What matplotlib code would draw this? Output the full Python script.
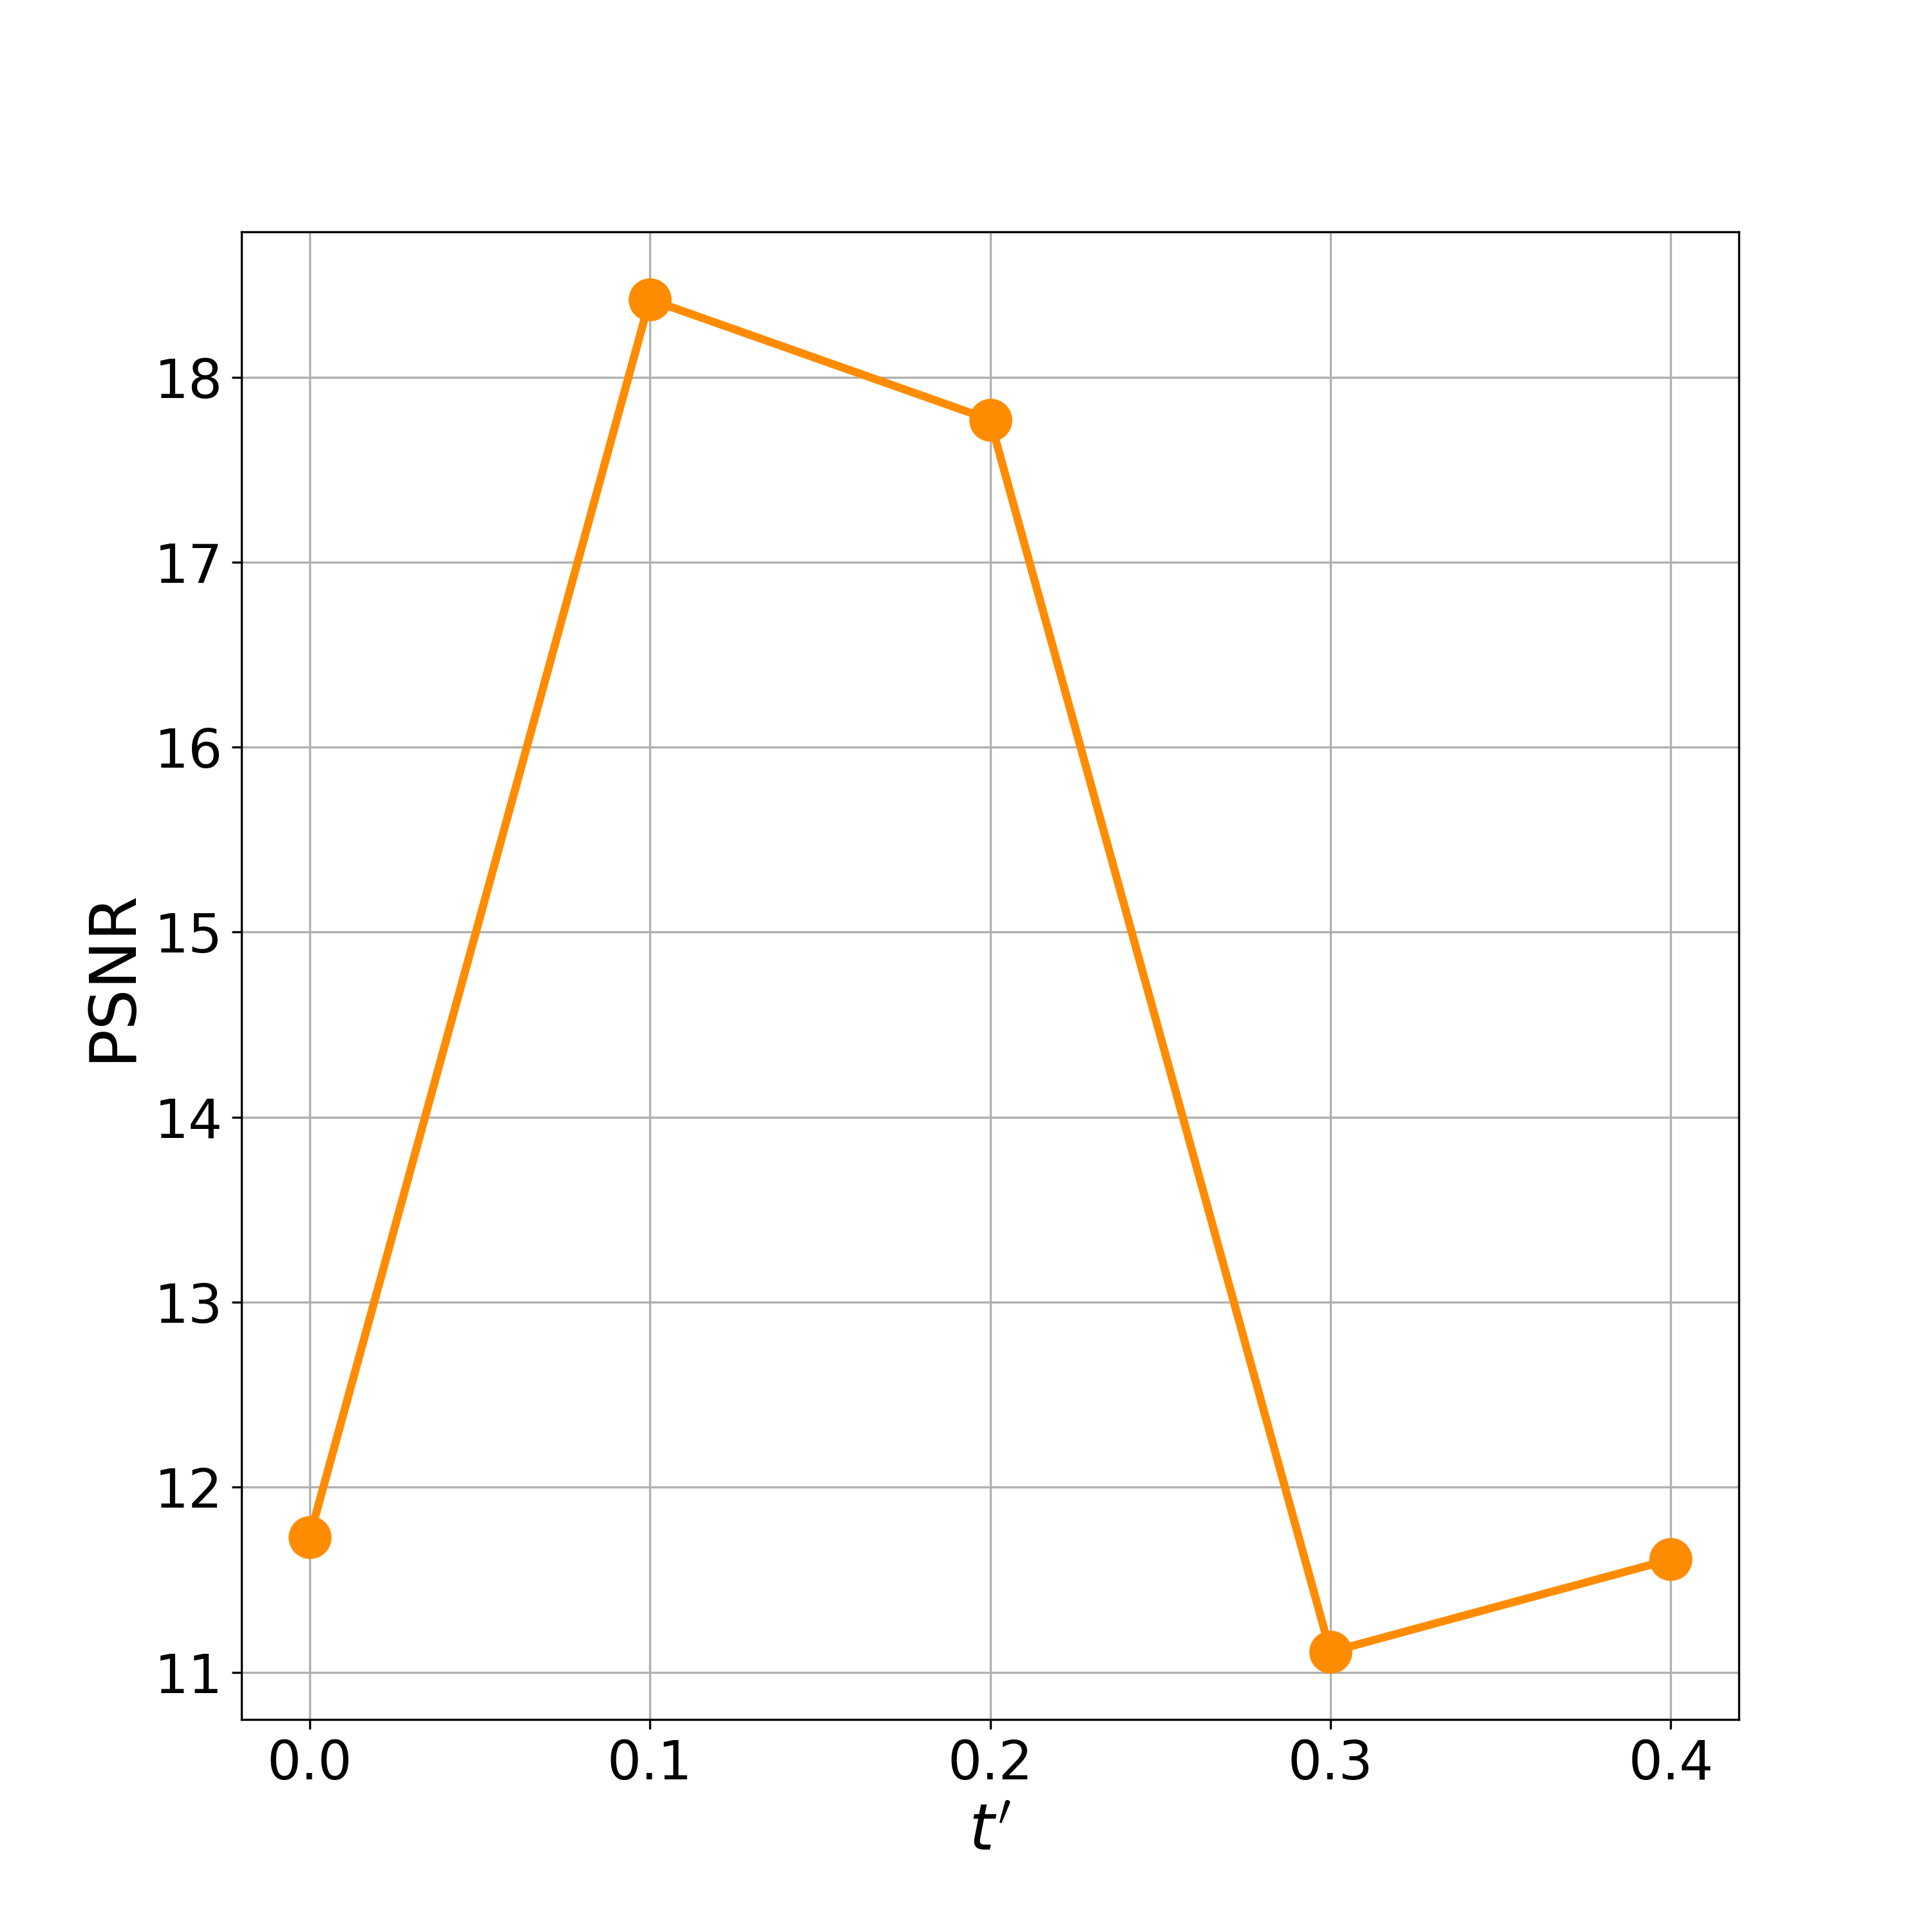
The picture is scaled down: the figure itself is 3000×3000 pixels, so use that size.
import numpy as np
import matplotlib
matplotlib.use('Agg')
import matplotlib.pyplot as plt

# values
t_prime = [0.0, 0.1, 0.2, 0.3, 0.4]
psnr = [11.73, 18.42, 17.77, 11.11, 11.61]

fig, ax = plt.subplots(figsize=(10, 10), dpi=300)
fig.subplots_adjust(left=0.125, right=0.9, top=0.88, bottom=0.11)

ax.plot(t_prime, psnr, color='darkorange', marker='o', markersize=15, linewidth=3)
ax.set_xticks(t_prime)
ax.set_xlabel(r"$t'$", fontsize=24)
ax.set_ylabel('PSNR', fontsize=24)
ax.tick_params(labelsize=20)
ax.grid(True)

plt.savefig('out.png')
